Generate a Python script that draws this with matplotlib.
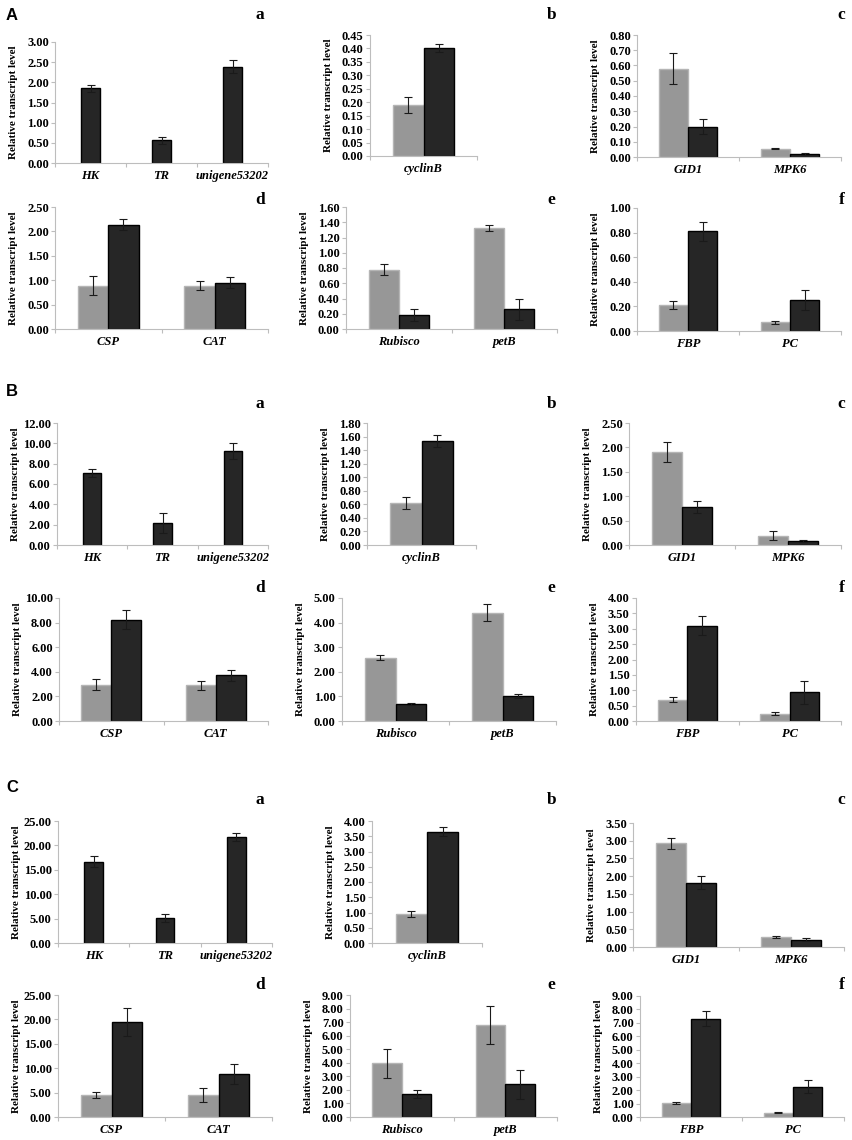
import numpy as np
import matplotlib.pyplot as plt
from matplotlib.ticker import FormatStrFormatter

# categories
cats_a = ['HK', 'TR', 'unigene53202']
cats_b = ['cyclinB']
cats_c = ['GID1', 'MPK6']
cats_d = ['CSP', 'CAT']
cats_e = ['Rubisco', 'petB']
cats_f = ['FBP', 'PC']

# section A
A_a = [1.85, 0.56, 2.39]
A_a_err = [0.09, 0.09, 0.17]
A_b_gray = [0.19]
A_b_gray_err = [0.03]
A_b_black = [0.40]
A_b_black_err = [0.015]
A_c_gray = [0.58, 0.055]
A_c_gray_err = [0.10, 0.005]
A_c_black = [0.20, 0.02]
A_c_black_err = [0.05, 0.004]
A_d_gray = [0.89, 0.89]
A_d_gray_err = [0.19, 0.09]
A_d_black = [2.14, 0.95]
A_d_black_err = [0.12, 0.12]
A_e_gray = [0.78, 1.33]
A_e_gray_err = [0.07, 0.04]
A_e_black = [0.18, 0.26]
A_e_black_err = [0.08, 0.14]
A_f_gray = [0.21, 0.07]
A_f_gray_err = [0.03, 0.01]
A_f_black = [0.81, 0.25]
A_f_black_err = [0.08, 0.08]

# section B
B_a = [7.10, 2.15, 9.25]
B_a_err = [0.40, 0.95, 0.80]
B_b_gray = [0.62]
B_b_gray_err = [0.09]
B_b_black = [1.54]
B_b_black_err = [0.09]
B_c_gray = [1.91, 0.19]
B_c_gray_err = [0.20, 0.09]
B_c_black = [0.78, 0.08]
B_c_black_err = [0.13, 0.02]
B_d_gray = [2.95, 2.90]
B_d_gray_err = [0.45, 0.38]
B_d_black = [8.25, 3.70]
B_d_black_err = [0.80, 0.42]
B_e_gray = [2.58, 4.40]
B_e_gray_err = [0.12, 0.35]
B_e_black = [0.70, 1.02]
B_e_black_err = [0.03, 0.08]
B_f_gray = [0.69, 0.23]
B_f_gray_err = [0.08, 0.05]
B_f_black = [3.10, 0.93]
B_f_black_err = [0.30, 0.37]

# section C
C_a = [16.7, 5.1, 21.8]
C_a_err = [1.1, 0.8, 0.8]
C_b_gray = [0.96]
C_b_gray_err = [0.10]
C_b_black = [3.65]
C_b_black_err = [0.14]
C_c_gray = [2.93, 0.28]
C_c_gray_err = [0.15, 0.02]
C_c_black = [1.81, 0.20]
C_c_black_err = [0.18, 0.04]
C_d_gray = [4.5, 4.5]
C_d_gray_err = [0.7, 1.4]
C_d_black = [19.5, 8.8]
C_d_black_err = [2.8, 2.0]
C_e_gray = [3.95, 6.80]
C_e_gray_err = [1.05, 1.40]
C_e_black = [1.68, 2.40]
C_e_black_err = [0.30, 1.05]
C_f_gray = [1.05, 0.33]
C_f_gray_err = [0.10, 0.04]
C_f_black = [7.30, 2.25]
C_f_black_err = [0.55, 0.48]

W, H = 852, 1140
GRAY = '#979797'
GRAY_EDGE = '#b5b5b5'
BLACK = '#262626'
AXCOL = '#bdbdbd'
SERIF = 'Liberation Serif'

fig = plt.figure(figsize=(8.52, 11.40), dpi=100)


def panel(l, r, t, b, cats, ymax, ystep, black, black_err, gray=None, gray_err=None):
    ax = fig.add_axes([l / W, 1 - b / H, (r - l) / W, (b - t) / H])
    n = len(cats)
    x = np.arange(n)
    if gray is None:
        w = 0.26
        ax.bar(x, black, w, color=BLACK, edgecolor='black', linewidth=1.0, zorder=2)
        ax.errorbar(x, black, yerr=black_err, fmt='none', ecolor='#1a1a1a',
                    elinewidth=0.8, capsize=3, capthick=0.8, zorder=3)
    else:
        w = 0.286
        ax.bar(x - w / 2, gray, w, color=GRAY, edgecolor=GRAY_EDGE, linewidth=1.0, zorder=2)
        ax.bar(x + w / 2, black, w, color=BLACK, edgecolor='black', linewidth=1.0, zorder=2)
        ax.errorbar(x - w / 2, gray, yerr=gray_err, fmt='none', ecolor='#1a1a1a',
                    elinewidth=0.8, capsize=3, capthick=0.8, zorder=3)
        ax.errorbar(x + w / 2, black, yerr=black_err, fmt='none', ecolor='#1a1a1a',
                    elinewidth=0.8, capsize=3, capthick=0.8, zorder=3)
    ax.set_xlim(-0.5, n - 0.5)
    ax.set_ylim(0, ymax)
    ax.set_yticks(np.arange(0, ymax + ystep / 2, ystep))
    ax.yaxis.set_major_formatter(FormatStrFormatter('%.2f'))
    ax.set_xticks(np.arange(n + 1) - 0.5)
    ax.set_xticklabels([])
    ax.set_xticks(x, minor=True)
    ax.set_xticklabels(cats, minor=True, fontstyle='italic', fontweight='bold',
                       family=SERIF, fontsize=9)
    ax.tick_params(axis='x', which='minor', length=0, pad=5)
    ax.tick_params(axis='x', which='major', length=3, color=AXCOL, width=0.8)
    ax.tick_params(axis='y', length=3, color=AXCOL, width=0.8, pad=1.5)
    for lab in ax.get_yticklabels():
        lab.set_family(SERIF)
        lab.set_fontweight('bold')
        lab.set_fontsize(9)
    for s in ['top', 'right']:
        ax.spines[s].set_visible(False)
    for s in ['left', 'bottom']:
        ax.spines[s].set_color(AXCOL)
        ax.spines[s].set_linewidth(0.8)
    ax.set_ylabel('Relative transcript level', family=SERIF, fontweight='bold', fontsize=8)
    ax.yaxis.set_label_coords(-37 / (r - l), 0.5)
    return ax


def letter(x, y, s, sans=False):
    if sans:
        fig.text(x / W, 1 - y / H, s, ha='center', va='center', family='Liberation Sans',
                 fontweight='bold', fontsize=12)
    else:
        fig.text(x / W, 1 - y / H, s, ha='center', va='center', family=SERIF,
                 fontweight='bold', fontsize=12.5)


# section A
panel(55, 268, 42, 163, cats_a, 3.0, 0.5, A_a, A_a_err)
panel(370, 477, 35, 156, cats_b, 0.45, 0.05, A_b_black, A_b_black_err, A_b_gray, A_b_gray_err)
panel(637, 841, 35, 157, cats_c, 0.8, 0.1, A_c_black, A_c_black_err, A_c_gray, A_c_gray_err)
panel(55, 268, 207, 329, cats_d, 2.5, 0.5, A_d_black, A_d_black_err, A_d_gray, A_d_gray_err)
panel(346, 557, 207, 329, cats_e, 1.6, 0.2, A_e_black, A_e_black_err, A_e_gray, A_e_gray_err)
panel(637, 841, 208, 331, cats_f, 1.0, 0.2, A_f_black, A_f_black_err, A_f_gray, A_f_gray_err)

# section B
panel(57, 268, 423, 545, cats_a, 12.0, 2.0, B_a, B_a_err)
panel(367, 476, 423, 545, cats_b, 1.8, 0.2, B_b_black, B_b_black_err, B_b_gray, B_b_gray_err)
panel(629, 841, 423, 545, cats_c, 2.5, 0.5, B_c_black, B_c_black_err, B_c_gray, B_c_gray_err)
panel(59, 268, 598, 721, cats_d, 10.0, 2.0, B_d_black, B_d_black_err, B_d_gray, B_d_gray_err)
panel(342, 556, 598, 721, cats_e, 5.0, 1.0, B_e_black, B_e_black_err, B_e_gray, B_e_gray_err)
panel(636, 841, 598, 721, cats_f, 4.0, 0.5, B_f_black, B_f_black_err, B_f_gray, B_f_gray_err)

# section C
panel(58, 272, 821, 943, cats_a, 25.0, 5.0, C_a, C_a_err)
panel(372, 482, 821, 943, cats_b, 4.0, 0.5, C_b_black, C_b_black_err, C_b_gray, C_b_gray_err)
panel(633, 844, 823, 947, cats_c, 3.5, 0.5, C_c_black, C_c_black_err, C_c_gray, C_c_gray_err)
panel(58, 272, 995, 1117, cats_d, 25.0, 5.0, C_d_black, C_d_black_err, C_d_gray, C_d_gray_err)
panel(350, 557, 995, 1117, cats_e, 9.0, 1.0, C_e_black, C_e_black_err, C_e_gray, C_e_gray_err)
panel(640, 844, 996, 1117, cats_f, 9.0, 1.0, C_f_black, C_f_black_err, C_f_gray, C_f_gray_err)

# panel letters
for sec, ytop, ybot in [('A', 15, 200), ('B', 404, 588), ('C', 800, 985)]:
    letter(12, ytop if sec == 'A' else ytop - 12, sec, sans=True)
    letter(260, ytop, 'a')
    letter(552, ytop, 'b')
    letter(841, ytop, 'c')
    letter(260, ybot, 'd')
    letter(551, ybot, 'e')
    letter(842, ybot, 'f')

fig.savefig('out.png', dpi=100, facecolor='white')
